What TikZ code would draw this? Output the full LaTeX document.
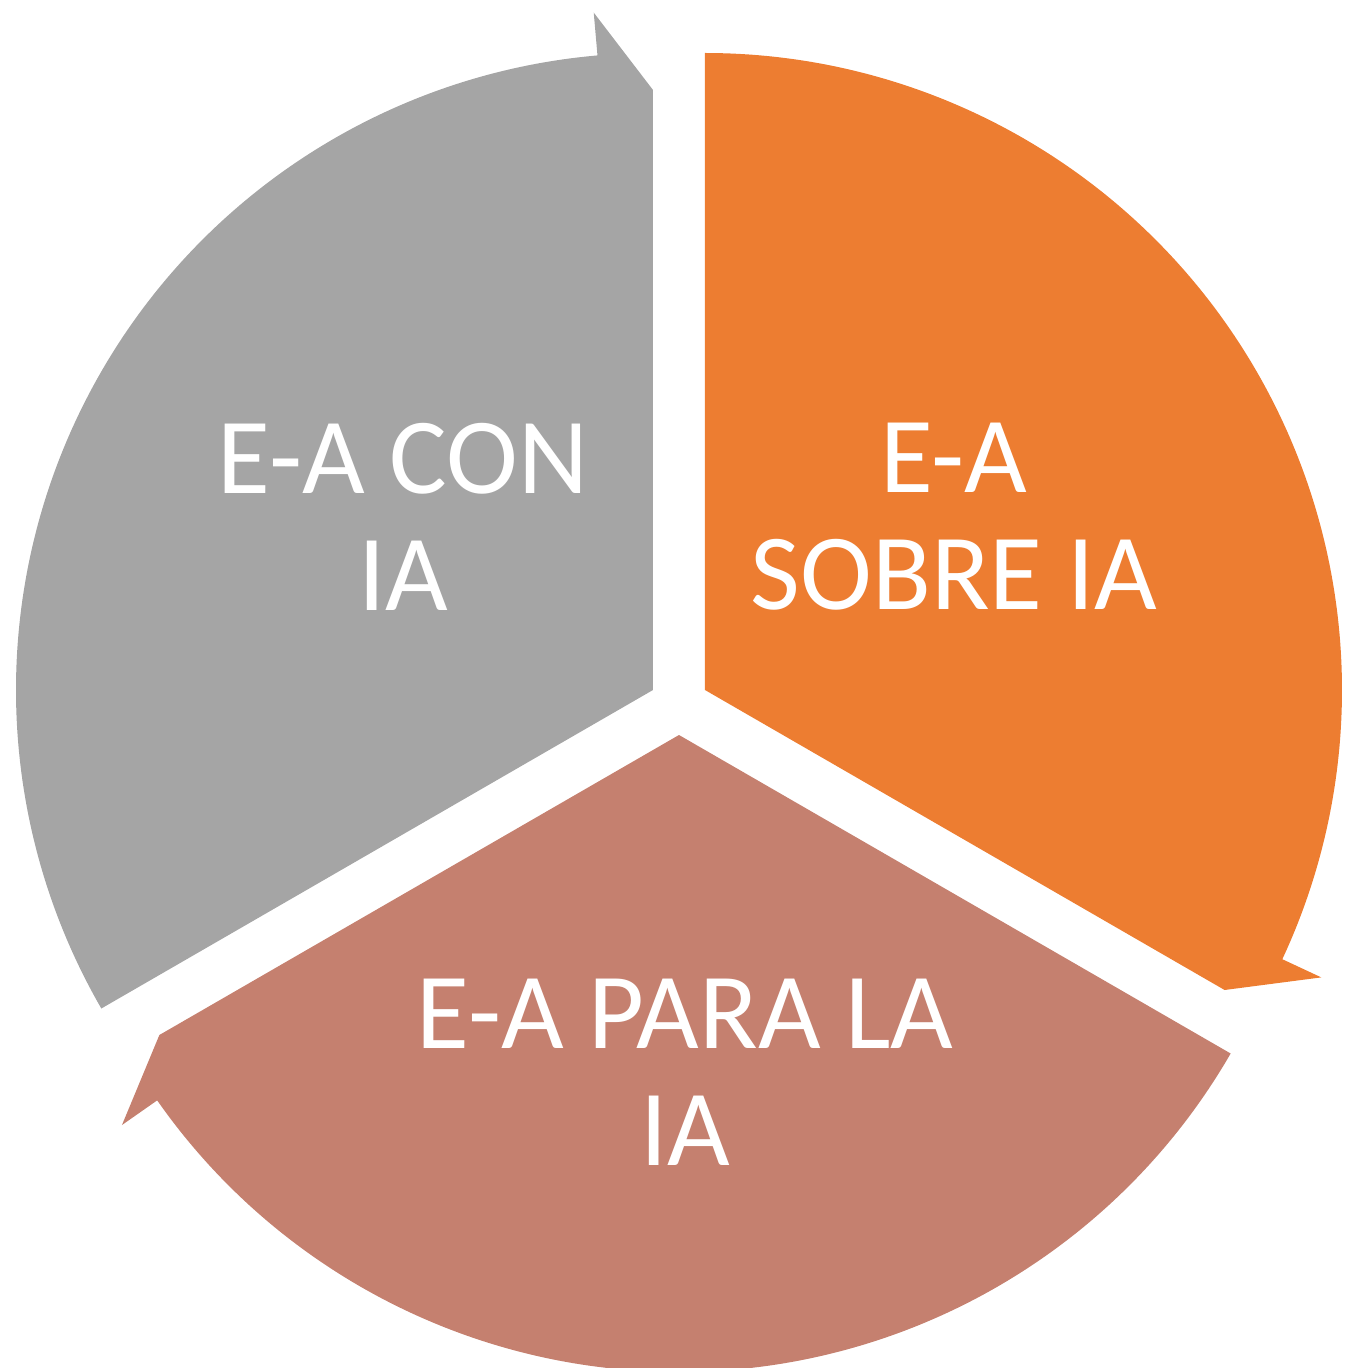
\documentclass[tikz,border=0pt]{standalone}
\usepackage{fontspec}
\setmainfont{Carlito}
\usepackage{tikz}
\definecolor{segorange}{HTML}{ED7D31}
\definecolor{seggray}{HTML}{A5A5A5}
\definecolor{segrose}{HTML}{C5806F}
\tikzset{lbl/.style={text=white,align=center,font=\fontsize{30.8}{33.3}\selectfont}}

\begin{document}
\begin{tikzpicture}
\useasboundingbox (-6.79,-6.63) rectangle (6.68,7.05);

\foreach \cx/\cy/\s/\col in {0.26/0.15/90/segorange,-0.26/0.15/210/seggray,0/-0.30/330/segrose}
\fill[\col,shift={(\cx,\cy)}] (0,0) -- (\s:6.37) arc[start angle=\s,end angle=\s-115,radius=6.37]
  -- (\s-115:6.8) -- (\s-120:6.0) -- cycle;

\node[lbl] (t1) at (-2.76,1.88) {E-A CON\\IA};
\node[lbl] (t2) at (2.75,1.88) {E-A\\SOBRE IA};
\node[lbl] (t3) at (0.06,-3.67) {E-A PARA LA\\IA};
\end{tikzpicture}
\end{document}
